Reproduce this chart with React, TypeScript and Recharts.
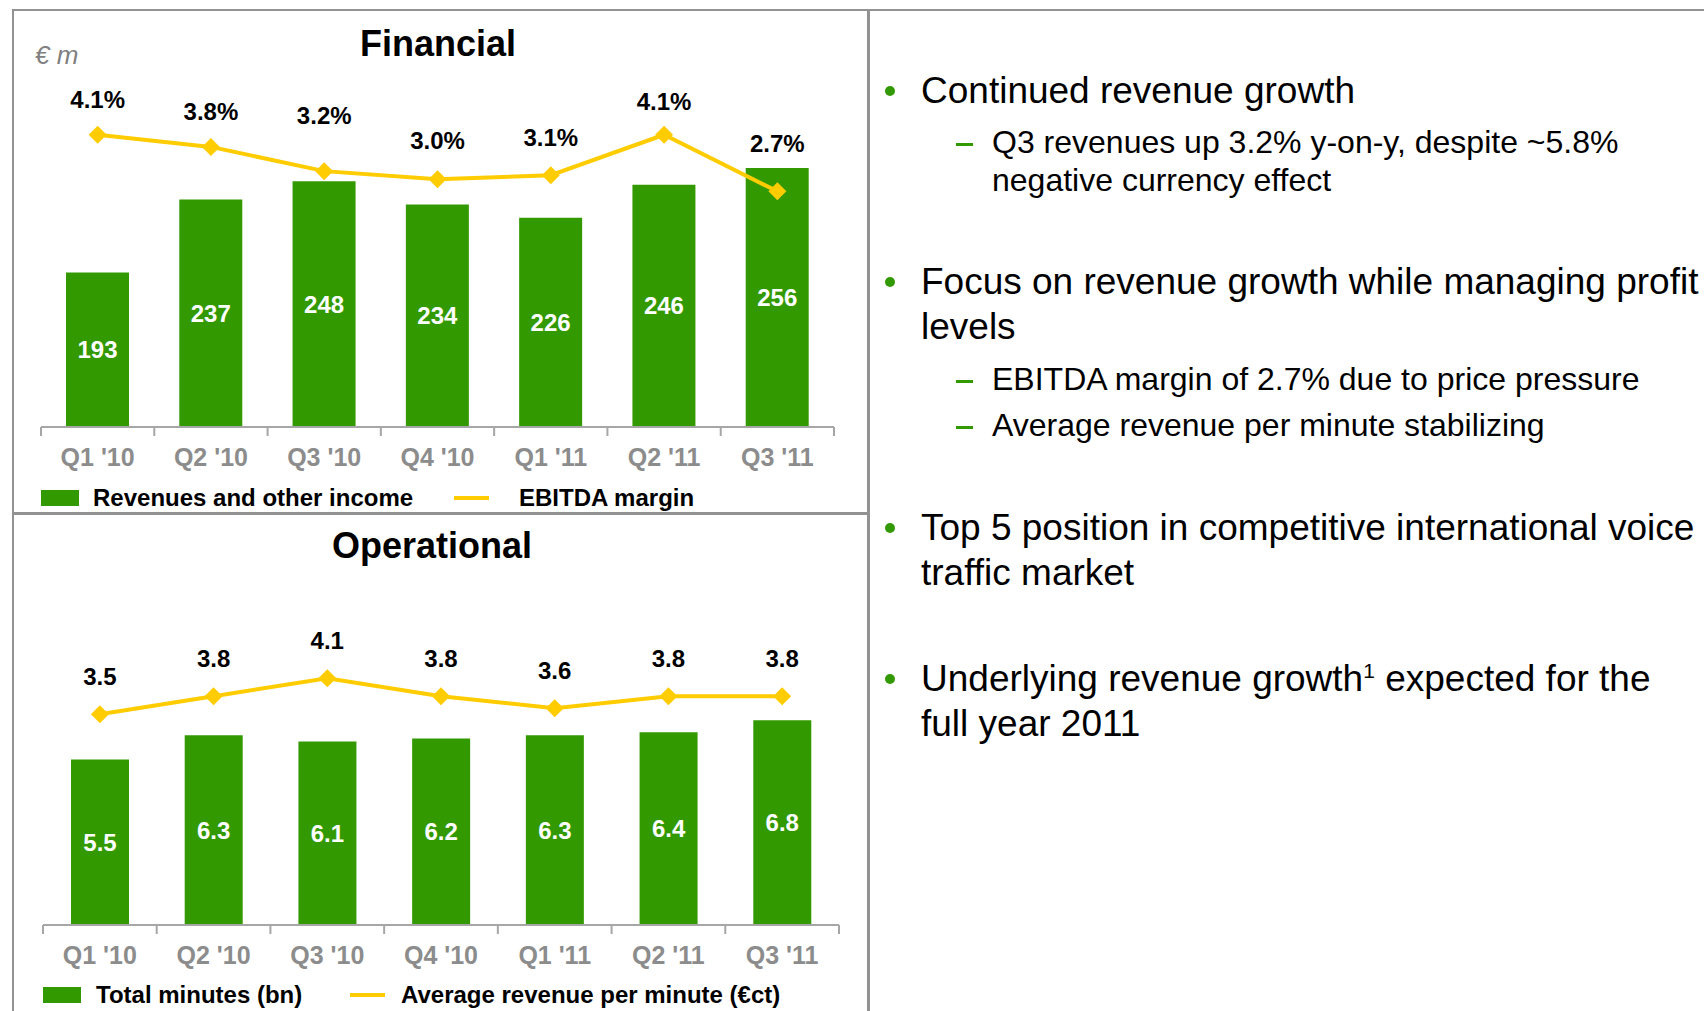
import React from 'react';
import { ComposedChart, Bar, Line, XAxis, YAxis, LabelList, Legend } from 'recharts';

const quarters = ["Q1 '10", "Q2 '10", "Q3 '10", "Q4 '10", "Q1 '11", "Q2 '11", "Q3 '11"];
const revenues = [193, 237, 248, 234, 226, 246, 256];
const ebitdaMargin = [4.1, 3.8, 3.2, 3.0, 3.1, 4.1, 2.7];
const totalMinutes = [5.5, 6.3, 6.1, 6.2, 6.3, 6.4, 6.8];
const revenuePerMinute = [3.5, 3.8, 4.1, 3.8, 3.6, 3.8, 3.8];

const financialData = quarters.map((q, i) => ({ q, revenues: revenues[i], margin: ebitdaMargin[i] }));
const operationalData = quarters.map((q, i) => ({ q, minutes: totalMinutes[i], arpm: revenuePerMinute[i] }));

// the slide lifts a few margin labels by hand (extra px above the point)
const marginLabelLift = [0, 0, 20, 3, 2, -2, 12];

const FONT = '"Liberation Sans", Arial, sans-serif';
const GREEN = '#339900';
const YELLOW = '#FFCC00';
const AXIS = '#a6a6a6';
const FRAME = '#929292';
const CHART_W = 867;

// tick labels centred, tick marks on the category boundaries
const makeTick = (band: number, count: number) => (props: any) => {
  const { x, y, payload } = props;
  const idx = payload?.index ?? props.index;
  return (
    <g>
      <line x1={x - band / 2} x2={x - band / 2} y1={y} y2={y + 9} stroke={AXIS} strokeWidth={2} />
      {idx === count - 1 && (
        <line x1={x + band / 2} x2={x + band / 2} y1={y} y2={y + 9} stroke={AXIS} strokeWidth={2} />
      )}
      <text x={x} y={y + 39} textAnchor="middle" fill="#8c8c8c" fontSize={25} fontWeight="bold" fontFamily={FONT}>
        {payload.value}
      </text>
    </g>
  );
};

const Diamond = (props: any) => {
  const { cx, cy } = props;
  if (cx == null || cy == null) return null;
  const r = 9;
  return <polygon points={`${cx},${cy - r} ${cx + r},${cy} ${cx},${cy + r} ${cx - r},${cy}`} fill={YELLOW} />;
};

const pointLabel = (fmt: (v: number) => string, base: number, lift?: number[]) => (props: any) => {
  const { x, y, value, index } = props;
  const extra = lift ? lift[index] ?? 0 : 0;
  return (
    <text x={x} y={y - base - extra} textAnchor="middle" fill="#000" fontSize={24} fontWeight="bold" fontFamily={FONT}>
      {fmt(value)}
    </text>
  );
};

const barLabel = (fmt: (v: number) => string) => (props: any) => {
  const { x, y, width, height, value } = props;
  return (
    <text x={x + width / 2} y={y + height / 2} dy="0.36em" textAnchor="middle" fill="#fff" fontSize={24} fontWeight="bold" fontFamily={FONT}>
      {fmt(value)}
    </text>
  );
};

type LegendItem = { label: string; kind: 'bar' | 'line'; left: number; textLeft: number };

const legendContent = (items: LegendItem[]) => () => (
  <div style={{ position: 'relative', width: CHART_W, height: 36, fontFamily: FONT }}>
    {items.map((it) => (
      <React.Fragment key={it.label}>
        {it.kind === 'bar' ? (
          <div style={{ position: 'absolute', left: it.left, top: 10, width: 38, height: 16, background: GREEN }} />
        ) : (
          <div style={{ position: 'absolute', left: it.left, top: 16, width: 35, height: 4, background: YELLOW }} />
        )}
        <div style={{ position: 'absolute', left: it.textLeft, top: 0, lineHeight: '36px', fontSize: 24, fontWeight: 'bold', color: '#000', whiteSpace: 'nowrap' }}>
          {it.label}
        </div>
      </React.Fragment>
    ))}
  </div>
);

const finMargin = { top: 95, right: 33, bottom: 55, left: 41 };
const opMargin = { top: 112, right: 28, bottom: 56, left: 43 };
const finBand = (CHART_W - finMargin.left - finMargin.right) / quarters.length;
const opBand = (CHART_W - opMargin.left - opMargin.right) / quarters.length;

function FinancialChart() {
  return (
    <ComposedChart width={CHART_W} height={512} data={financialData} margin={finMargin}>
      <XAxis dataKey="q" height={30} tickSize={0} tickMargin={0} interval={0}
        axisLine={{ stroke: AXIS, strokeWidth: 2 }} tick={makeTick(finBand, quarters.length)} />
      <YAxis yAxisId="bar" hide domain={[100, 300]} allowDataOverflow />
      <YAxis yAxisId="line" hide domain={[-3.135, 5.085]} allowDataOverflow />
      <Bar yAxisId="bar" dataKey="revenues" fill={GREEN} barSize={63} isAnimationActive={false}>
        <LabelList dataKey="revenues" content={barLabel((v) => String(v))} />
      </Bar>
      <Line yAxisId="line" dataKey="margin" stroke={YELLOW} strokeWidth={4} dot={<Diamond />} activeDot={false} isAnimationActive={false}>
        <LabelList dataKey="margin" content={pointLabel((v) => `${v.toFixed(1)}%`, 27, marginLabelLift)} />
      </Line>
      <Legend layout="vertical" align="center" verticalAlign="middle"
        wrapperStyle={{ left: 0, top: 480, width: CHART_W, height: 36 }}
        content={legendContent([
          { label: 'Revenues and other income', kind: 'bar', left: 41, textLeft: 93 },
          { label: 'EBITDA margin', kind: 'line', left: 454, textLeft: 519 },
        ])} />
    </ComposedChart>
  );
}

function OperationalChart() {
  return (
    <ComposedChart width={CHART_W} height={499} data={operationalData} margin={opMargin}>
      <XAxis dataKey="q" height={30} tickSize={0} tickMargin={0} interval={0}
        axisLine={{ stroke: AXIS, strokeWidth: 2 }} tick={makeTick(opBand, quarters.length)} />
      <YAxis yAxisId="bar" hide domain={[0, 10]} allowDataOverflow />
      <YAxis yAxisId="line" hide domain={[0, 5]} allowDataOverflow />
      <Bar yAxisId="bar" dataKey="minutes" fill={GREEN} barSize={58} isAnimationActive={false}>
        <LabelList dataKey="minutes" content={barLabel((v) => v.toFixed(1))} />
      </Bar>
      <Line yAxisId="line" dataKey="arpm" stroke={YELLOW} strokeWidth={4} dot={<Diamond />} activeDot={false} isAnimationActive={false}>
        <LabelList dataKey="arpm" content={pointLabel((v) => v.toFixed(1), 29)} />
      </Line>
      <Legend layout="vertical" align="center" verticalAlign="middle"
        wrapperStyle={{ left: 0, top: 465, width: CHART_W, height: 36 }}
        content={legendContent([
          { label: 'Total minutes (bn)', kind: 'bar', left: 43, textLeft: 96 },
          { label: 'Average revenue per minute (€ct)', kind: 'line', left: 350, textLeft: 401 },
        ])} />
    </ComposedChart>
  );
}

// right-hand commentary: level 0 = bullet, 1 = dash
const notes: { text: React.ReactNode; level: number; mark: boolean; center: number }[] = [
  { text: 'Continued revenue growth', level: 0, mark: true, center: 91 },
  { text: 'Q3 revenues up 3.2% y-on-y, despite ~5.8%', level: 1, mark: true, center: 142 },
  { text: 'negative currency effect', level: 1, mark: false, center: 180 },
  { text: 'Focus on revenue growth while managing profit', level: 0, mark: true, center: 282 },
  { text: 'levels', level: 0, mark: false, center: 327 },
  { text: 'EBITDA margin of 2.7% due to price pressure', level: 1, mark: true, center: 379 },
  { text: 'Average revenue per minute stabilizing', level: 1, mark: true, center: 425 },
  { text: 'Top 5 position in competitive international voice', level: 0, mark: true, center: 528 },
  { text: 'traffic market', level: 0, mark: false, center: 573 },
  { text: <>Underlying revenue growth<span style={{ fontSize: 21, position: 'relative', top: -13 }}>1</span> expected for the</>, level: 0, mark: true, center: 679 },
  { text: 'full year 2011', level: 0, mark: false, center: 724 },
];

function Notes() {
  return (
    <>
      {notes.map((n, i) => {
        const big = n.level === 0;
        const fs = big ? 37 : 32;
        const lh = big ? 44 : 38;
        return (
          <React.Fragment key={i}>
            {n.mark && big && (
              <div style={{ position: 'absolute', left: 885, top: n.center - 5, width: 10, height: 10, borderRadius: 5, background: GREEN }} />
            )}
            {n.mark && !big && (
              <div style={{ position: 'absolute', left: 956, top: n.center + 1, width: 17, height: 3, background: GREEN }} />
            )}
            <div style={{ position: 'absolute', left: big ? 921 : 992, top: n.center - lh / 2, fontSize: fs, lineHeight: `${lh}px`, whiteSpace: 'nowrap', color: '#000' }}>
              {n.text}
            </div>
          </React.Fragment>
        );
      })}
    </>
  );
}

export default function App() {
  return (
    <div style={{ position: 'absolute', left: 0, top: 0, width: 1704, height: 1011, background: '#fff', overflow: 'hidden', fontFamily: FONT }}>
      {/* frame */}
      <div style={{ position: 'absolute', left: 12, top: 9, width: 1692, height: 2, background: FRAME }} />
      <div style={{ position: 'absolute', left: 12, top: 9, width: 2, height: 1002, background: FRAME }} />
      <div style={{ position: 'absolute', left: 867, top: 9, width: 3, height: 1002, background: FRAME }} />
      <div style={{ position: 'absolute', left: 12, top: 512, width: 856, height: 3, background: FRAME }} />

      <div style={{ position: 'absolute', left: 0, top: 0 }}>
        <FinancialChart />
      </div>
      <div style={{ position: 'absolute', left: 0, top: 512 }}>
        <OperationalChart />
      </div>

      <div style={{ position: 'absolute', left: 0, top: 43.5 - 22, width: 876, textAlign: 'center', fontSize: 36, fontWeight: 'bold', lineHeight: '44px' }}>Financial</div>
      <div style={{ position: 'absolute', left: 35, top: 55 - 16, fontSize: 26, fontStyle: 'italic', color: '#808080', lineHeight: '32px' }}>€ m</div>
      <div style={{ position: 'absolute', left: 0, top: 545.5 - 22, width: 864, textAlign: 'center', fontSize: 36, fontWeight: 'bold', lineHeight: '44px' }}>Operational</div>

      <Notes />
    </div>
  );
}
